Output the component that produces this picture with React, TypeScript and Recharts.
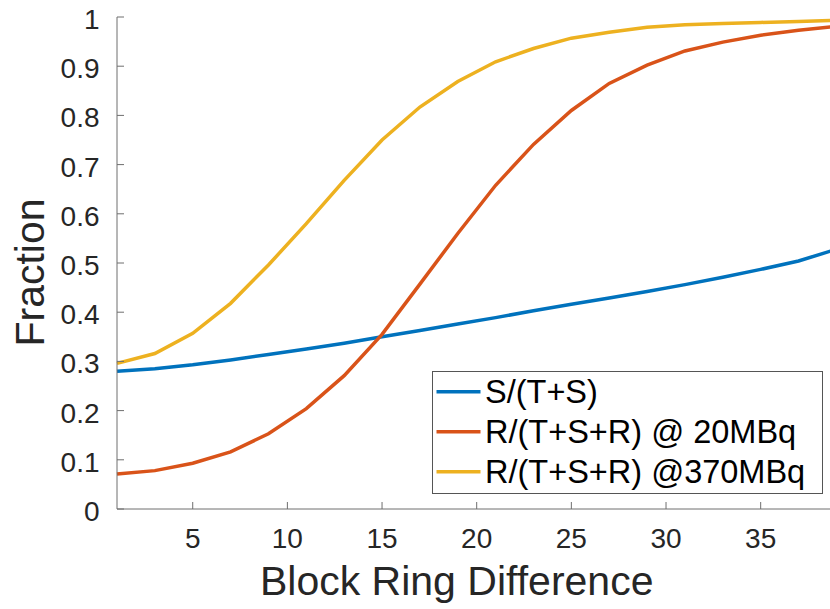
import React from "react";
import { LineChart, Line, XAxis, YAxis, Legend, Label } from "recharts";

const ringDiff = [1, 3, 5, 7, 9, 11, 13, 15, 17, 19, 21, 23, 25, 27, 29, 31, 33, 35, 37, 39];
const sFrac = [0.280, 0.285, 0.293, 0.303, 0.314, 0.325, 0.337, 0.350, 0.363, 0.376, 0.389, 0.403, 0.416, 0.429, 0.442, 0.456, 0.471, 0.487, 0.504, 0.528];
const r20 = [0.071, 0.078, 0.093, 0.116, 0.153, 0.204, 0.271, 0.355, 0.457, 0.560, 0.658, 0.741, 0.810, 0.865, 0.902, 0.931, 0.949, 0.963, 0.973, 0.981];
const r370 = [0.296, 0.316, 0.357, 0.418, 0.496, 0.580, 0.668, 0.750, 0.817, 0.869, 0.909, 0.936, 0.957, 0.969, 0.979, 0.984, 0.987, 0.989, 0.991, 0.993];

const xTicks = [5, 10, 15, 20, 25, 30, 35];
const yTicks = [0, 0.1, 0.2, 0.3, 0.4, 0.5, 0.6, 0.7, 0.8, 0.9, 1];
const seriesNames = ["S/(T+S)", "R/(T+S+R) @ 20MBq", "R/(T+S+R) @370MBq"];
const seriesColors = ["#0072BD", "#D95319", "#EDB120"];
const xTitle = "Block Ring Difference";
const yTitle = "Fraction";

const data = ringDiff.map((x, i) => ({ x, s: sFrac[i], r20: r20[i], r370: r370[i] }));

const FONT = '"Liberation Sans", Arial, Helvetica, sans-serif';
const TXT = "#262626";
const AX = "#6e6e6e";
const TL = 7;

const BottomTick = (props: any) => {
  const { x, y, payload } = props;
  return (
    <g>
      <line x1={x} x2={x} y1={y} y2={y - TL} stroke={AX} strokeWidth={1} />
      <text x={x} y={y + 39} textAnchor="middle" fontSize={28} fontFamily={FONT} fill={TXT}>
        {String(payload.value)}
      </text>
    </g>
  );
};

const LeftTick = (props: any) => {
  const { x, y, payload } = props;
  return (
    <g>
      <line x1={x} x2={x + TL} y1={y} y2={y} stroke={AX} strokeWidth={1} />
      <text x={x - 17.5} y={y + 12} textAnchor="end" fontSize={28} fontFamily={FONT} fill={TXT}>
        {String(payload.value)}
      </text>
    </g>
  );
};

const TopTick = (props: any) => {
  const { x, y } = props;
  return <line x1={x} x2={x} y1={y} y2={y + TL} stroke={AX} strokeWidth={1} />;
};

const RightTick = (props: any) => {
  const { x, y } = props;
  return <line x1={x} x2={x - TL} y1={y} y2={y} stroke={AX} strokeWidth={1} />;
};

const LegendBox = (props: any) => {
  const payload = [...(props.payload || [])].sort(
    (a: any, b: any) => seriesNames.indexOf(a.value) - seriesNames.indexOf(b.value)
  );
  return (
    <svg width={391} height={123} style={{ display: "block" }}>
      <rect x={0.5} y={0.5} width={390} height={122} fill="#fff" stroke="#555" strokeWidth={1} />
      {payload.map((p: any, i: number) => {
        const cy = 20.7 + i * 40;
        return (
          <g key={i}>
            <line x1={4.5} x2={48.5} y1={cy} y2={cy} stroke={p.color} strokeWidth={3.5} />
            <text x={53} y={cy + 11} fontSize={32.5} fontFamily={FONT} fill="#000">
              {p.value}
            </text>
          </g>
        );
      })}
    </svg>
  );
};

export default function App() {
  return (
    <div style={{ position: "absolute", left: 0, top: 0, width: 830, height: 609, overflow: "hidden", background: "#fff" }}>
      <LineChart
        width={860}
        height={609}
        data={data}
        margin={{ top: 17, right: 23.6, left: 0, bottom: 0 }}
      >
        <XAxis
          dataKey="x"
          type="number"
          domain={[1, 39]}
          ticks={xTicks}
          height={100}
          tickSize={0}
          tickMargin={0}
          tickLine={false}
          axisLine={{ stroke: AX, strokeWidth: 1 }}
          tick={<BottomTick />}
          interval={0}
        >
          <Label
            value={xTitle}
            position="insideBottom"
            offset={14}
            dx={-20}
            style={{ fontSize: 41, fontFamily: FONT, fill: TXT }}
          />
        </XAxis>
        <XAxis
          xAxisId="top"
          orientation="top"
          dataKey="x"
          type="number"
          domain={[1, 39]}
          ticks={xTicks}
          height={0}
          tickSize={0}
          tickMargin={0}
          tickLine={false}
          axisLine={{ stroke: AX, strokeWidth: 1 }}
          tick={<TopTick />}
          interval={0}
        />
        <YAxis
          type="number"
          domain={[0, 1]}
          ticks={yTicks}
          width={117}
          tickSize={0}
          tickMargin={0}
          tickLine={false}
          axisLine={{ stroke: AX, strokeWidth: 1 }}
          tick={<LeftTick />}
          interval={0}
        >
          <Label
            content={() => (
              <text
                x={43.5}
                y={272.5}
                transform="rotate(-90, 43.5, 272.5)"
                textAnchor="middle"
                fontSize={41}
                fontFamily={FONT}
                fill={TXT}
              >
                {yTitle}
              </text>
            )}
          />
        </YAxis>
        <YAxis
          yAxisId="right"
          orientation="right"
          type="number"
          domain={[0, 1]}
          ticks={yTicks}
          width={0}
          tickSize={0}
          tickMargin={0}
          tickLine={false}
          axisLine={{ stroke: AX, strokeWidth: 1 }}
          tick={<RightTick />}
          interval={0}
        />
        <Line dataKey="s" name={seriesNames[0]} stroke={seriesColors[0]} strokeWidth={3.5} dot={false} type="linear" isAnimationActive={false} />
        <Line dataKey="r20" name={seriesNames[1]} stroke={seriesColors[1]} strokeWidth={3.5} dot={false} type="linear" isAnimationActive={false} />
        <Line dataKey="r370" name={seriesNames[2]} stroke={seriesColors[2]} strokeWidth={3.5} dot={false} type="linear" isAnimationActive={false} />
        <Legend
          layout="vertical"
          align="center"
          verticalAlign="middle"
          content={<LegendBox />}
          wrapperStyle={{ position: "absolute", left: 432, top: 371, width: 391, height: 123 }}
        />
      </LineChart>
    </div>
  );
}
